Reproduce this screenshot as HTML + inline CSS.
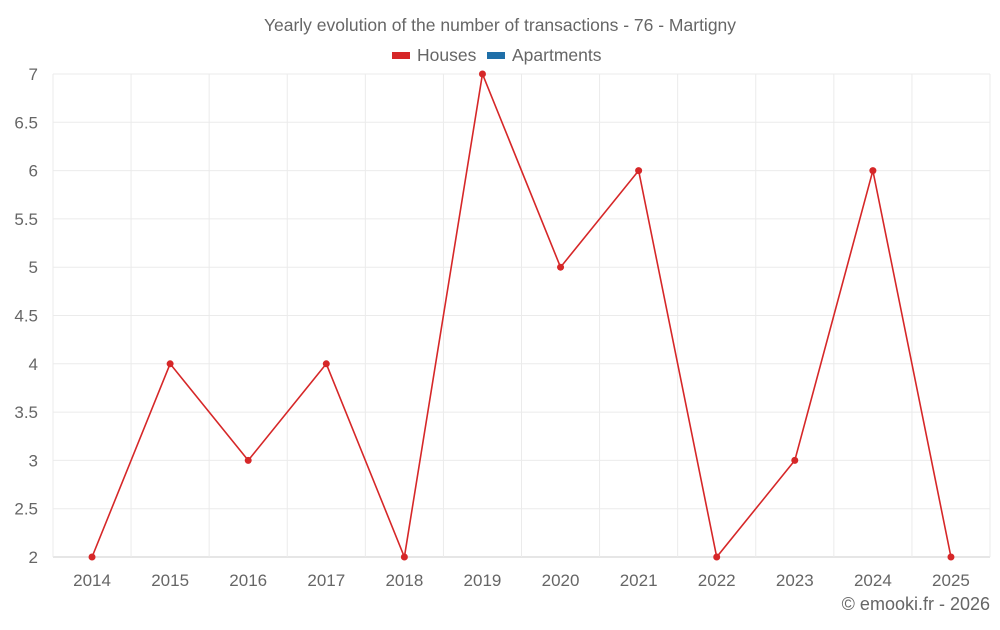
<!DOCTYPE html>
<html><head><meta charset="utf-8"><style>
body{margin:0;background:#fff;font-family:"Liberation Sans",sans-serif;}
svg text{font-family:"Liberation Sans",sans-serif;fill:#666;}
</style></head><body>
<svg id="c" width="1000" height="625">
<text x="500" y="31" text-anchor="middle" font-size="17.5">Yearly evolution of the number of transactions - 76 - Martigny</text>
<g>
<g><rect x="392" y="52" width="18" height="7" fill="#d62728"></rect><text x="417" y="61" font-size="17.5">Houses</text></g>
<g><rect x="487" y="52" width="18" height="7" fill="#1f6fa8"></rect><text x="512" y="61" font-size="17.5">Apartments</text></g>
</g>
<g id="grid"></g><g id="axes"></g><g id="series"></g>
<text x="990" y="610" text-anchor="end" font-size="18">© emooki.fr - 2026</text>
</svg>
<script>
const categories=["2014","2015","2016","2017","2018","2019","2020","2021","2022","2023","2024","2025"];
const housesValues=[2,4,3,4,2,7,5,6,2,3,6,2];
const yTicks=[2,2.5,3,3.5,4,4.5,5,5.5,6,6.5,7];
const NS="http://www.w3.org/2000/svg";
const L=53,R=990,T=74,B=557,yMin=2,yMax=7;
const bw=(R-L)/categories.length;
const x=i=>L+bw*(i+0.5);
const y=v=>B-(v-yMin)/(yMax-yMin)*(B-T);
function mk(t,a,p){const e=document.createElementNS(NS,t);for(const k in a)e.setAttribute(k,a[k]);p.appendChild(e);return e;}
const g=document.getElementById('grid'),ax=document.getElementById('axes'),s=document.getElementById('series');
yTicks.forEach(v=>{
 const l=mk('line',{x1:L,x2:R,y1:y(v),y2:y(v),stroke:v===yMin?'#ccc':'#ebebeb'},g);
 
 
 const t=mk('text',{x:38,y:y(v)+6,'text-anchor':'end','font-size':17},ax);t.textContent=String(v);
 
 
});
for(let i=0;i<=categories.length;i++){
 const l=mk('line',{x1:L+bw*i,x2:L+bw*i,y1:T,y2:B,stroke:'#ebebeb'},g);
 
 
}
categories.forEach((c,i)=>{
 const t=mk('text',{x:x(i),y:586,'text-anchor':'middle','font-size':17},ax);t.textContent=c;
 
 
});
const pl=mk('polyline',{points:housesValues.map((v,i)=>x(i)+','+y(v)).join(' '),fill:'none',stroke:'#d62728','stroke-width':1.6},s);


housesValues.forEach((v,i)=>{
 const c=mk('circle',{cx:x(i),cy:y(v),r:3.5,fill:'#d62728'},s);
 
 
});
</script>
</body></html>
